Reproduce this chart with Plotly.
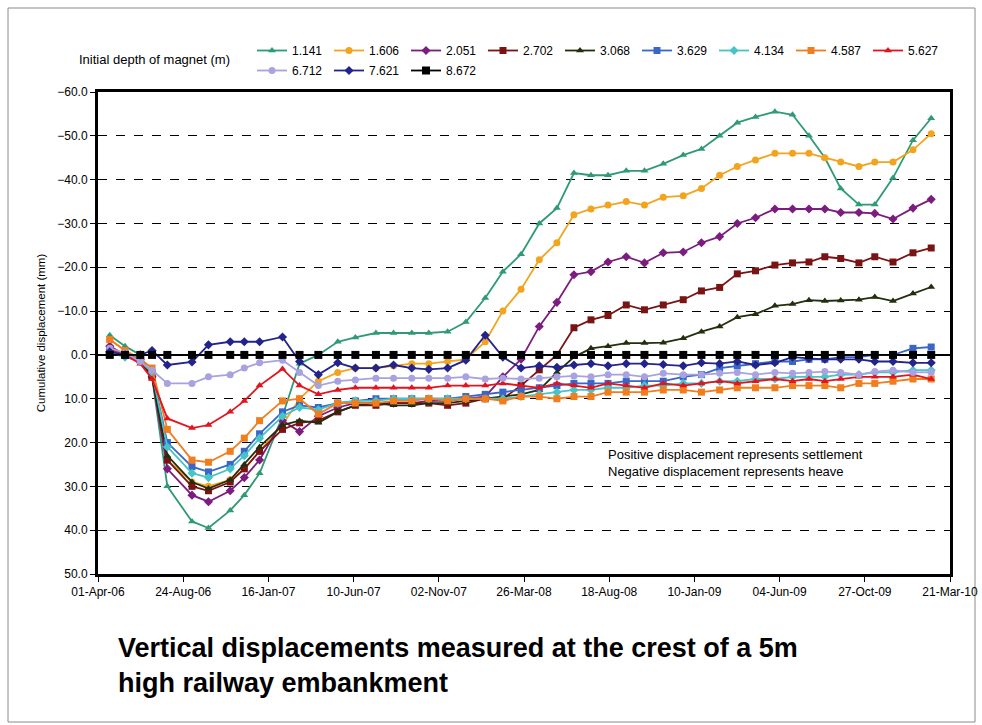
import plotly.graph_objects as go

# Measurement dates (magnet extensometer readings)
dates = [
    "2006-04-21", "2006-05-17", "2006-06-12", "2006-07-02", "2006-07-28",
    "2006-09-08", "2006-10-06", "2006-11-12", "2006-12-06", "2007-01-01",
    "2007-02-09", "2007-03-10", "2007-04-11", "2007-05-14", "2007-06-13",
    "2007-07-18", "2007-08-17", "2007-09-17", "2007-10-16", "2007-11-17",
    "2007-12-18", "2008-01-20", "2008-02-19", "2008-03-21", "2008-04-21",
    "2008-05-21", "2008-06-19", "2008-07-18", "2008-08-16", "2008-09-16",
    "2008-10-17", "2008-11-18", "2008-12-22", "2009-01-22", "2009-02-22",
    "2009-03-24", "2009-04-24", "2009-05-27", "2009-06-26", "2009-07-24",
    "2009-08-20", "2009-09-16", "2009-10-17", "2009-11-13", "2009-12-14",
    "2010-01-17", "2010-02-17",
]

# Cumulative displacement (mm), positive = settlement, negative = heave
d_1141 = [-4.5, -2, 0, 5, 30, 38, 39.5, 35.5, 32, 27,
          14, 2, 0, -3, -4, -5, -5, -5, -5, -5.3,
          -7.5, -13, -19, -23, -30, -33.5, -41.5, -41, -41, -42,
          -42, -43.6, -45.6, -47, -50, -53, -54.3, -55.5, -54.8, -50,
          -45, -38, -34.3, -34.3, -40.4, -49, -54]
d_1606 = [-3.5, -1, 1, 5, 24, 29, 30, 28.5, 26, 22,
          16, 10, 6, 4, 3, 3, 2.5, 2, 2, 1.5,
          1, -3, -10, -15, -21.7, -25.6, -32, -33.3, -34.2, -35,
          -34.2, -36, -36.3, -38, -41, -43, -44.5, -46, -46, -46,
          -45, -44, -43, -44, -44, -46.8, -50.5]
d_2051 = [-2, 0, 1, 5, 26, 32, 33.5, 31, 28, 24,
          15, 17.5, 14, 12, 11, 11, 11, 11, 10.5, 10.5,
          10, 9.5, 5, 1, -6.5, -12, -18.3, -19, -21.2, -22.4,
          -21, -23.3, -23.5, -25.6, -27, -30, -31.3, -33.3, -33.3, -33.3,
          -33.3, -32.5, -32.5, -32.3, -31, -33.5, -35.5]
d_2702 = [-1, 0, 1, 5, 24, 30, 31, 29, 26, 22,
          17, 15.5, 15, 13, 11.5, 11.5, 11, 11, 11, 11.5,
          11, 10, 10, 7, 3.4, 0, -6.2, -8, -9, -11.4,
          -10.3, -11.4, -12.6, -14.6, -15.4, -18.5, -19.2, -20.5, -21, -21.2,
          -22.4, -22, -21, -22.4, -21.2, -23.3, -24.4]
d_3068 = [-1.5, 0, 1.5, 5, 23, 29, 30.5, 28.5, 25, 21,
          16, 15, 15.5, 13, 11.5, 11, 11.5, 11.5, 11, 11,
          10.5, 10, 9.5, 9, 8, 4, 0.5, -1.5, -2, -2.7,
          -2.7, -2.8, -3.8, -5.3, -6.5, -8.6, -9.3, -11.2, -11.6, -12.5,
          -12.3, -12.4, -12.6, -13.2, -12.3, -14, -15.5]
d_3629 = [-1, 0, 1, 4, 20, 25.5, 26.7, 25, 22, 18,
          13, 11.5, 12, 11, 10.5, 10, 10, 10, 10, 10,
          9.5, 9, 8.5, 8, 7.5, 7, 6.5, 6.5, 6.5, 6,
          6, 6, 5, 4.5, 3, 2.5, 2, 1.5, 1.5, 1,
          1, 0.5, 0.5, 0, 0, -1.5, -1.8]
d_4134 = [-0.5, 0.5, 1.5, 4, 21, 27, 28, 26, 23, 19,
          14, 12, 12.5, 11, 10.5, 10.5, 10, 10, 10, 10,
          10, 10, 10, 9.5, 9, 8.5, 8, 8, 7.5, 7.5,
          7, 7, 6.5, 6.5, 6, 6, 5.5, 5.5, 5, 5,
          5, 4.5, 4.5, 4, 4, 3.5, 3.5]
d_4587 = [-3.5, -1, 1, 3, 17, 24, 24.5, 22, 19, 15,
          10.5, 10, 13.5, 11, 11, 11, 10.5, 10.5, 10, 10.5,
          10, 10, 10.5, 9.5, 9.5, 10, 9.5, 9.5, 8.5, 8.5,
          8.5, 8, 8, 8.5, 8, 7.5, 7.5, 7.5, 7, 7,
          7, 7.5, 6.5, 6.5, 6, 5.5, 5.5]
d_5627 = [-1.5, 0, 2, 5.5, 14.5, 16.7, 16, 13, 10.5, 7,
          3.2, 7, 9, 8, 7.5, 7.5, 7.5, 7.5, 7.5, 7,
          7, 7, 6.5, 7, 7.5, 6.5, 7, 7.5, 6.5, 7,
          7.5, 6.5, 7, 6.5, 6, 6.5, 6, 5.5, 6, 5.5,
          6, 5.5, 5, 5, 5, 4.5, 5.5]
d_6712 = [-1.5, -0.5, 1.5, 3.5, 6.5, 6.5, 5, 4.5, 3, 1.8,
          1.2, 4, 7, 6, 5.7, 5.3, 5.3, 5.3, 5.3, 5.3,
          5, 5.5, 5.3, 5.5, 5.3, 5, 4.8, 5, 4.5, 4.5,
          5, 4.2, 4.5, 4.5, 4.2, 4, 4.5, 4, 4.2, 4,
          3.8, 4, 4.5, 3.8, 3.5, 4, 4]
d_7621 = [-0.7, 0, 0, -1, 2.3, 1.6, -2.3, -3, -3, -3,
          -4.1, 1.5, 4.5, 1.8, 3, 3, 2.3, 3, 3.3, 3,
          1.2, -4.5, 0.5, 3, 2.5, 2.8, 2.3, 2, 2.5, 2,
          2, 2.2, 2.5, 1.8, 2, 1.5, 2.3, 1.8, 0.5, 0.8,
          1, 1, 1, 1.5, 1.5, 1.8, 1.8]
d_8672 = [0.0] * len(dates)

depth_labels = ["1.141", "1.606", "2.051", "2.702", "3.068", "3.629",
                "4.134", "4.587", "5.627", "6.712", "7.621", "8.672"]
series = [d_1141, d_1606, d_2051, d_2702, d_3068, d_3629,
          d_4134, d_4587, d_5627, d_6712, d_7621, d_8672]

colors = ["#2F9B74", "#F2A41E", "#7B1C7E", "#7A1414", "#232E0E", "#3A66C8",
          "#46C4C8", "#F07D1E", "#E3141E", "#A8A2E0", "#23238C", "#000000"]
symbols = ["triangle-up", "circle", "diamond", "square", "triangle-up", "square",
           "diamond", "square", "triangle-up", "circle", "diamond", "square"]
sizes = [7, 7, 7, 7, 7, 7, 7, 7, 7, 7, 7, 8]

FONT = "Liberation Sans, Arial, sans-serif"

fig = go.Figure()
for i, (name, vals, col, sym, sz) in enumerate(
        zip(depth_labels, series, colors, symbols, sizes)):
    fig.add_trace(go.Scatter(
        x=dates, y=vals, name=name, mode="lines+markers",
        line=dict(color=col, width=1.8),
        marker=dict(symbol=sym, size=sz, color=col, line=dict(width=0)),
        # first nine depths on the upper legend row, the rest below
        legend="legend" if i < 9 else "legend2",
    ))

# plot area in pixels: left 98, right 950, top 92, bottom 574
L, R, T, B = 98, 950, 92, 574
W, H = 982, 725
pw, ph = R - L, B - T


def px(x):
    return (x - L) / pw


def py(y):
    return (B - y) / ph


legend_style = dict(
    orientation="h", xref="container", yref="container",
    x=252 / W, xanchor="left", yanchor="top",
    font=dict(size=12), itemwidth=30, entrywidth=32,
    tracegroupgap=0, bgcolor="rgba(0,0,0,0)",
)

fig.update_layout(
    width=W, height=H,
    margin=dict(l=L, r=W - R, t=T, b=H - B, autoexpand=False),
    paper_bgcolor="white", plot_bgcolor="white",
    font=dict(family=FONT, size=12, color="black"),
    showlegend=True,
    legend=dict(legend_style, y=1 - 36 / H),
    legend2=dict(legend_style, y=1 - 56 / H),
    xaxis=dict(
        type="date", range=["2006-04-01", "2010-03-21"],
        tick0="2006-04-01", dtick=145 * 86400000, tickformat="%d-%b-%y",
        ticks="outside", ticklen=5, tickcolor="black", tickangle=0,
        showgrid=False, showline=True, linecolor="black", linewidth=3,
        mirror=True, tickfont=dict(size=12),
    ),
    yaxis=dict(
        range=[50, -60], dtick=10, tickformat=".1f",
        ticks="outside", ticklen=5, tickcolor="black",
        showgrid=True, gridcolor="black", griddash="dash", gridwidth=1,
        zeroline=True, zerolinecolor="black", zerolinewidth=2,
        showline=True, linecolor="black", linewidth=3, mirror=True,
        tickfont=dict(size=12),
        title=dict(text="Cumulative displacement (mm)", font=dict(size=11.5),
                   standoff=10),
    ),
    shapes=[dict(type="rect", xref="paper", yref="paper",
                 x0=px(8), x1=px(975), y0=py(722), y1=py(8),
                 line=dict(color="#8a8a8a", width=1), layer="below")],
    annotations=[
        dict(text="Initial depth of magnet (m)",
             xref="paper", yref="paper", x=px(77), y=py(59),
             xanchor="left", yanchor="middle", showarrow=False,
             font=dict(size=13)),
        dict(text="Positive displacement represents settlement<br>"
                  "Negative displacement represents heave",
             xref="paper", yref="paper", x=px(606), y=py(463),
             xanchor="left", yanchor="middle", align="left",
             showarrow=False, font=dict(size=13)),
        dict(text="<b>Vertical displacements measured at the crest of a 5m</b>",
             xref="paper", yref="paper", x=px(116), y=py(648),
             xanchor="left", yanchor="middle", align="left",
             showarrow=False, font=dict(size=27)),
        dict(text="<b>high railway embankment</b>",
             xref="paper", yref="paper", x=px(116), y=py(683),
             xanchor="left", yanchor="middle", align="left",
             showarrow=False, font=dict(size=27)),
    ],
)

fig.write_html("out.html")
